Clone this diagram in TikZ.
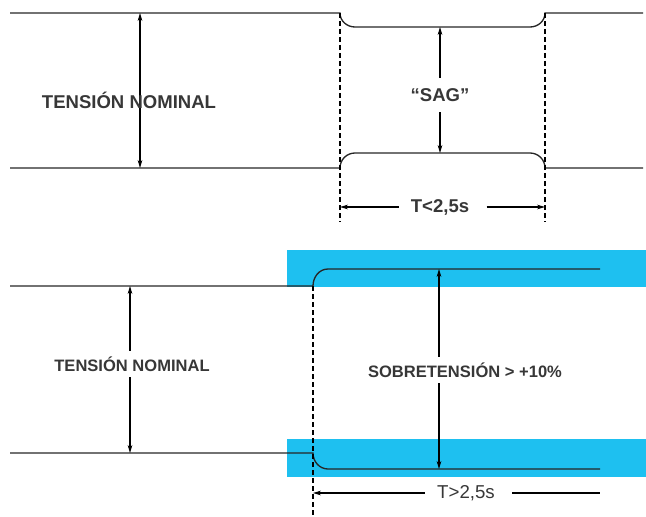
\documentclass[tikz,border=0pt]{standalone}
\usepackage{fontspec}
\setmainfont{Liberation Sans}
\usepackage{tikz}
\usetikzlibrary{arrows.meta}
\definecolor{bandcyan}{RGB}{30,192,240}
\definecolor{labelgray}{RGB}{55,55,55}
\tikzset{
  trace/.style={line width=1pt,black!85},
  guide/.style={line width=0.8pt,dashed,dash pattern=on 4pt off 2pt},
  dimarrow/.style={line width=0.8pt,{Stealth[length=6pt,width=3.5pt]}-{Stealth[length=6pt,width=3.5pt]}},
  rightarrow/.style={line width=0.8pt,-{Stealth[length=6pt,width=3.5pt]}},
  biglabel/.style={text=labelgray,font=\bfseries\fontsize{13.9pt}{15pt}\selectfont,inner sep=1pt},
  smalllabel/.style={text=labelgray,font=\bfseries\fontsize{12.4pt}{14pt}\selectfont,inner sep=1pt},
  timelabel/.style={text=labelgray,font=\fontsize{14pt}{15pt}\selectfont,inner sep=1pt}
}
\begin{document}
\begin{tikzpicture}[x=0.75pt,y=-0.75pt]
\useasboundingbox (0,0) rectangle (646,517);

% Top diagram: voltage sag
\draw[trace] (10,13) -- (340,13) to[out=-90,in=180] (355,27) -- (530,27) to[out=0,in=-90] (545,13) -- (643,13);
\draw[trace] (10,168) -- (340,168) to[out=90,in=180] (355,153) -- (530,153) to[out=0,in=90] (545,168) -- (643,168);
\draw[guide] (340,13) -- (340,222);
\draw[guide] (545,13) -- (545,222);

\coordinate (nomtop) at (140,13);
\coordinate (nombot) at (140,168);
\draw[dimarrow] (nomtop) -- (nombot);
\node[biglabel] (nomA) at (129,100) {TENSIÓN NOMINAL};

\coordinate (sagtop) at (440,27);
\coordinate (sagbot) at (440,153);
\node[biglabel,fill=white,inner xsep=2pt,inner ysep=8pt] (sag) at (440,95) {“SAG”};
\draw[rightarrow] (sag.north) -- (sagtop);
\draw[rightarrow] (sag.south) -- (sagbot);

\coordinate (tAleft) at (340,207);
\coordinate (tAright) at (545,207);
\node[biglabel] (tA) at (440,207) {T<2,5s};
\draw[rightarrow] ([xshift=-8pt]tA.west) -- (tAleft);
\draw[rightarrow] ([xshift=12pt]tA.east) -- (tAright);

% Bottom diagram: overvoltage
\fill[bandcyan] (287,250) rectangle (646,287);
\fill[bandcyan] (287,439) rectangle (646,477);
\draw[trace] (10,286) -- (313,286) to[out=90,in=180] (328,269) -- (600,269);
\draw[trace] (10,453) -- (313,453) to[out=-90,in=180] (328,469) -- (600,469);
\draw[guide] (313,286) -- (313,517);

\coordinate (nomBtop) at (130,286);
\coordinate (nomBbot) at (130,453);
\node[smalllabel,fill=white,inner sep=4pt] (nomB) at (132,364) {TENSIÓN NOMINAL};
\draw[rightarrow] (nomB.north -| nomBtop) -- (nomBtop);
\draw[rightarrow] (nomB.south -| nomBbot) -- (nomBbot);

\coordinate (sobtop) at (439,269);
\coordinate (sobbot) at (439,469);
\node[smalllabel,fill=white,inner sep=4pt] (sob) at (465,370) {SOBRETENSIÓN > +10\%};
\draw[rightarrow] (sob.north -| sobtop) -- (sobtop);
\draw[rightarrow] (sob.south -| sobbot) -- (sobbot);

\coordinate (tBleft) at (313,493);
\coordinate (tBright) at (600,493);
\node[timelabel] (tB) at (466,493) {T>2,5s};
\draw[rightarrow] ([xshift=-8pt]tB.west) -- (tBleft);
\draw[line width=0.8pt] ([xshift=12pt]tB.east) -- (tBright);
\end{tikzpicture}
\end{document}
